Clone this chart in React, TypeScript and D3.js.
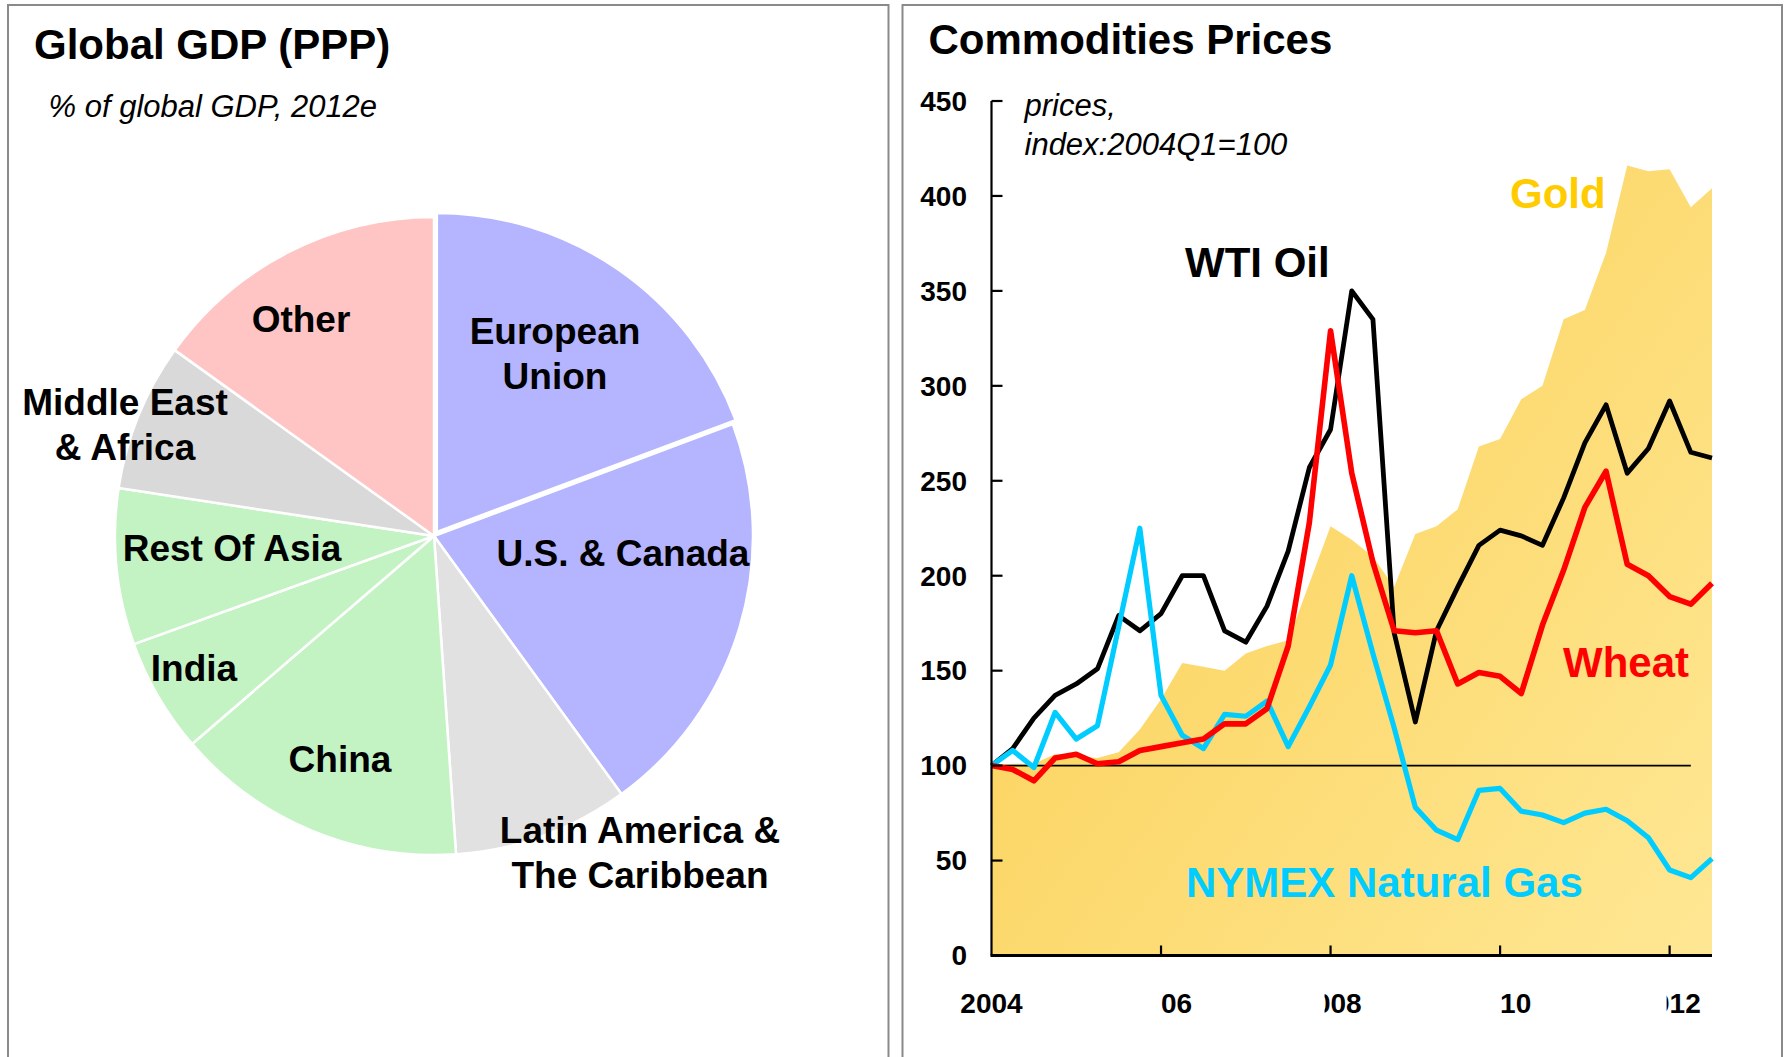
import React from 'react';
import * as d3 from 'd3';

const W = 1784;
const H = 1057;
const FONT = "'Liberation Sans', Arial, Helvetica, sans-serif";

// ---- Global GDP (PPP), % of global GDP, 2012e ----
const regions = [
  'European Union',
  'U.S. & Canada',
  'Latin America & The Caribbean',
  'China',
  'India',
  'Rest Of Asia',
  'Middle East & Africa',
  'Other',
];
const gdpShare = [19.3, 20.7, 8.9, 14.8, 5.8, 7.9, 7.5, 15.1];
const regionColors = ['#b4b4ff', '#b4b4ff', '#e1e1e1', '#c3f3c3', '#c3f3c3', '#c3f3c3', '#d9d9d9', '#ffc5c5'];
const regionLabelLines = [
  ['European', 'Union'],
  ['U.S. & Canada'],
  ['Latin America &', 'The Caribbean'],
  ['China'],
  ['India'],
  ['Rest Of Asia'],
  ['Middle East', '& Africa'],
  ['Other'],
];

// ---- Commodities prices, index 2004Q1 = 100 ----
const quarters = [
  '2004Q1', '2004Q2', '2004Q3', '2004Q4',
  '2005Q1', '2005Q2', '2005Q3', '2005Q4',
  '2006Q1', '2006Q2', '2006Q3', '2006Q4',
  '2007Q1', '2007Q2', '2007Q3', '2007Q4',
  '2008Q1', '2008Q2', '2008Q3', '2008Q4',
  '2009Q1', '2009Q2', '2009Q3', '2009Q4',
  '2010Q1', '2010Q2', '2010Q3', '2010Q4',
  '2011Q1', '2011Q2', '2011Q3', '2011Q4',
  '2012Q1', '2012Q2', '2012Q3',
];
const gold = [100, 101, 101, 106, 105, 104, 107, 119, 135, 154, 152, 150, 159, 163, 166, 196, 226, 219, 210, 194,
  222, 226, 235, 268, 272, 293, 300, 335, 340, 370, 416, 413, 414, 394, 404];
const wtiOil = [100, 109, 125, 137, 143, 151, 179, 171, 180, 200, 200, 171, 165, 184, 213, 257, 277, 350, 335, 170,
  123, 171, 194, 216, 224, 221, 216, 241, 270, 290, 254, 267, 292, 265, 262];
const wheat = [100, 98, 92, 104, 106, 101, 102, 108, 110, 112, 114, 122, 122, 130, 163, 228, 329, 254, 207, 171,
  170, 171, 143, 149, 147, 138, 174, 203, 236, 255, 206, 200, 189, 185, 196];
const natGas = [100, 108, 99, 128, 114, 121, 173, 225, 137, 116, 109, 127, 126, 134, 110, 131, 153, 200, 159, 120,
  78, 66, 61, 87, 88, 76, 74, 70, 75, 77, 71, 62, 45, 41, 51];

const yTicks = [0, 50, 100, 150, 200, 250, 300, 350, 400, 450];
const yearTicks = ['2004Q1', '2006Q1', '2008Q1', '2010Q1', '2012Q1'];
const yearLabels = ['2004', '2006', '2008', '2010', '2012'];
const baseLevel = 100;
const baseLineEnd = '2012Q2';

export default function App() {
  // pie layout
  const cx = 434;
  const cy = 536;
  const R = 319;
  const explode = [5, 0, 0, 0, 0, 0, 0, 0];
  const pieData = d3.pie<number>().sort(null).value(d => d)(gdpShare);
  const arc = d3.arc<d3.PieArcDatum<number>>().innerRadius(0).outerRadius(R);

  // label anchors: [center x, first baseline y]
  const labelPos: [number, number][] = [
    [555, 344], [623, 566], [640, 843], [340, 772],
    [194, 681], [232, 561], [125, 415], [301, 332],
  ];

  // line chart scales
  const x = d3.scalePoint<string>().domain(quarters).range([991.5, 1712]);
  const y = d3.scaleLinear().domain([0, 450]).range([955.5, 101]);
  const xs = (i: number) => x(quarters[i]) as number;

  const goldArea = d3.area<number>()
    .x((_, i) => xs(i))
    .y0(y(0))
    .y1(d => y(d))(gold) as string;
  const line = d3.line<number>().x((_, i) => xs(i)).y(d => y(d));

  // left edge of the visible part of each year label, relative to its tick
  const labelClip = [null, 0, -6, 0, -3];

  return (
    <svg width={W} height={H} style={{ position: 'absolute', left: 0, top: 0, display: 'block', background: '#fff' }}
      fontFamily={FONT}>
      <defs>
        <linearGradient id="goldFill" x1="0" y1="0.2" x2="1" y2="1">
          <stop offset="0" stopColor="#fbd055" />
          <stop offset="1" stopColor="#fee794" />
        </linearGradient>
        {yearTicks.map((t, i) => labelClip[i] === null ? null : (
          <clipPath id={`yl${i}`} key={t}>
            <rect x={(x(t) as number) + (labelClip[i] as number)} y={960} width={80} height={80} />
          </clipPath>
        ))}
      </defs>

      {/* panel frames */}
      <path d={`M8,${H} V5 H888.5 V${H}`} fill="none" stroke="#8a8a8a" strokeWidth={2} />
      <path d={`M902.5,${H} V5 H1782 V${H}`} fill="none" stroke="#8a8a8a" strokeWidth={2} />

      {/* ---------- left: pie ---------- */}
      <text x={34} y={58.5} fontSize={42} fontWeight="bold">Global GDP (PPP)</text>
      <text x={48.5} y={117} fontSize={31} fontStyle="italic">% of global GDP, 2012e</text>

      <g transform={`translate(${cx},${cy})`}>
        {pieData.map((d, i) => {
          const mid = (d.startAngle + d.endAngle) / 2;
          const dx = Math.sin(mid) * explode[i];
          const dy = -Math.cos(mid) * explode[i];
          return (
            <path key={regions[i]} d={arc(d) as string} transform={`translate(${dx},${dy})`}
              fill={regionColors[i]} stroke="#fff" strokeWidth={2.5} strokeLinejoin="round" />
          );
        })}
      </g>
      {regionLabelLines.map((lines, i) => (
        <text key={regions[i]} fontSize={37} fontWeight="bold" textAnchor="middle" fill="#000">
          {lines.map((l, j) => (
            <tspan key={l} x={labelPos[i][0]} y={labelPos[i][1] + j * 45}>{l}</tspan>
          ))}
        </text>
      ))}

      {/* ---------- right: commodities ---------- */}
      <text x={928.5} y={53.5} fontSize={42} fontWeight="bold">Commodities Prices</text>

      <path d={goldArea} fill="url(#goldFill)" />

      <line x1={xs(0)} x2={x(baseLineEnd) as number} y1={y(baseLevel)} y2={y(baseLevel)} stroke="#000" strokeWidth={1.8} />

      <path d={line(wtiOil) as string} fill="none" stroke="#000" strokeWidth={4.8} strokeLinejoin="round" />
      <path d={line(natGas) as string} fill="none" stroke="#00ccff" strokeWidth={5.2} strokeLinejoin="round" />
      <path d={line(wheat) as string} fill="none" stroke="#ff0000" strokeWidth={5.6} strokeLinejoin="round" />

      {/* axes */}
      <line x1={xs(0)} x2={xs(0)} y1={y(0)} y2={y(450)} stroke="#000" strokeWidth={2.2} />
      {yTicks.map(t => (
        <g key={t}>
          <line x1={xs(0)} x2={xs(0) + 11} y1={y(t)} y2={y(t)} stroke="#000" strokeWidth={2.2} />
          <text x={967} y={y(t)} dy="0.35em" textAnchor="end" fontSize={28} fontWeight="bold">{t}</text>
        </g>
      ))}
      <line x1={xs(0) - 1} x2={xs(quarters.length - 1)} y1={y(0)} y2={y(0)} stroke="#000" strokeWidth={2.8} />
      {yearTicks.slice(1).map(t => (
        <line key={t} x1={x(t) as number} x2={x(t) as number} y1={y(0)} y2={y(0) - 10} stroke="#000" strokeWidth={2.2} />
      ))}
      {yearTicks.map((t, i) => (
        <text key={t} x={x(t) as number} y={1013} textAnchor="middle" fontSize={28} fontWeight="bold"
          clipPath={labelClip[i] === null ? undefined : `url(#yl${i})`}>{yearLabels[i]}</text>
      ))}

      {/* annotations */}
      <text x={1024.5} y={116} fontSize={31} fontStyle="italic">prices,</text>
      <text x={1024.5} y={155} fontSize={31} fontStyle="italic">index:2004Q1=100</text>
      <text x={1510} y={208} fontSize={42} fontWeight="bold" fill="#ffcc00">Gold</text>
      <text x={1185} y={277} fontSize={42} fontWeight="bold" fill="#000">WTI Oil</text>
      <text x={1563} y={677} fontSize={42} fontWeight="bold" fill="#ff0000">Wheat</text>
      <text x={1186} y={897} fontSize={42} fontWeight="bold" fill="#00ccff">NYMEX Natural Gas</text>
    </svg>
  );
}
